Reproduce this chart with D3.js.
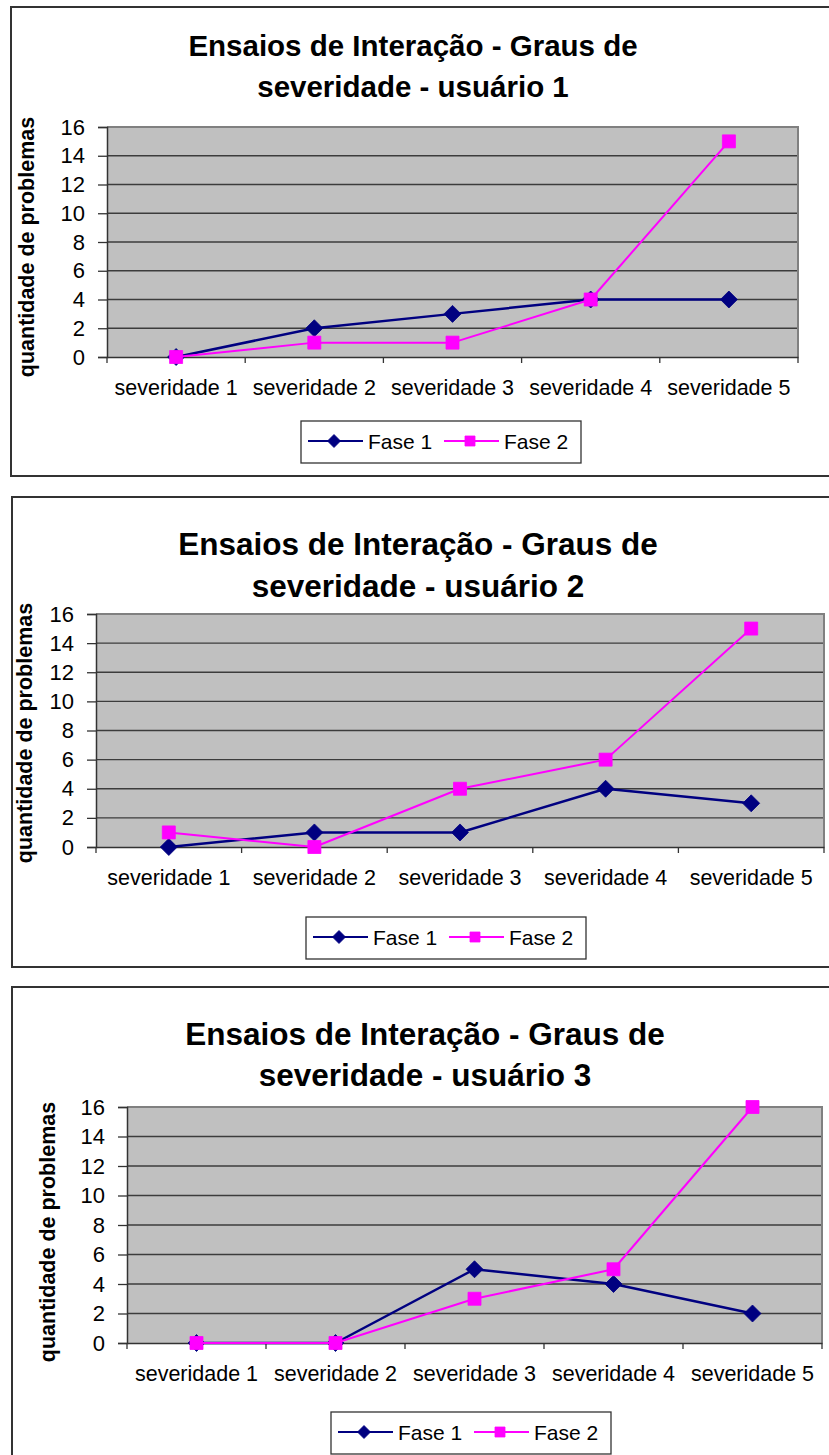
<!DOCTYPE html>
<html>
<head>
<meta charset="utf-8">
<script src="https://cdn.jsdelivr.net/npm/d3@7/dist/d3.min.js"></script>
<style>
  html, body { margin: 0; padding: 0; background: #ffffff; }
  svg { display: block; }
  text { font-family: "Liberation Sans", Arial, Helvetica, sans-serif; fill: #000; }
</style>
</head>
<body>
<svg id="chart" width="829" height="1455"></svg>
<script>
// Categories and tick values shared by the three panels
const categories = ["severidade 1", "severidade 2", "severidade 3", "severidade 4", "severidade 5"];
const yTicks = [0, 2, 4, 6, 8, 10, 12, 14, 16];
const seriesNames = ["Fase 1", "Fase 2"];
const yAxisTitle = "quantidade de problemas";

// Number of problems per severity level, per user and phase
const fase1Usuario1 = [0, 2, 3, 4, 4];
const fase2Usuario1 = [0, 1, 1, 4, 15];
const fase1Usuario2 = [0, 1, 1, 4, 3];
const fase2Usuario2 = [1, 0, 4, 6, 15];
const fase1Usuario3 = [0, 0, 5, 4, 2];
const fase2Usuario3 = [0, 0, 3, 5, 16];

const titles = [
  ["Ensaios de Interação - Graus de", "severidade - usuário 1"],
  ["Ensaios de Interação - Graus de", "severidade - usuário 2"],
  ["Ensaios de Interação - Graus de", "severidade - usuário 3"]
];

// Panel geometry (pixels)
const layouts = [
  { frame: [11, 7, 840, 469], plot: { l: 107, r: 798, t: 127, b: 357 },
    titleX: 413, titleY: [56, 97], titleSize: 29.5,
    axisTitle: [34, 247], legend: [301, 421] },
  { frame: [12, 497, 840, 470], plot: { l: 96, r: 824, t: 614, b: 847 },
    titleX: 418, titleY: [555, 597], titleSize: 31.5,
    axisTitle: [32, 733], legend: [306, 917] },
  { frame: [12, 987, 840, 500], plot: { l: 127, r: 822, t: 1107, b: 1343 },
    titleX: 425, titleY: [1045, 1086], titleSize: 31.5,
    axisTitle: [55, 1232], legend: [331, 1412] }
];

const panelData = [
  [fase1Usuario1, fase2Usuario1],
  [fase1Usuario2, fase2Usuario2],
  [fase1Usuario3, fase2Usuario3]
];

const colors = ["#000080", "#FF00FF"];
const lineWidths = [2.5, 2];

const svg = d3.select("#chart");
svg.append("rect").attr("width", 829).attr("height", 1455).attr("fill", "#fff");

const diamond = (s) => `M0,${-s}L${s},0L0,${s}L${-s},0Z`;
const square = (s) => `M${-s},${-s}H${s}V${s}H${-s}Z`;

function drawMarker(g, i, x, y, big) {
  const path = i === 0 ? diamond(big ? 8.5 : 6.5) : square(big ? 6.5 : 5);
  g.append("path")
    .attr("d", path)
    .attr("transform", `translate(${x},${y})`)
    .attr("fill", colors[i])
    .attr("stroke", colors[i])
    .attr("stroke-width", 0.8);
}

layouts.forEach((L, p) => {
  const g = svg.append("g");
  const [fx, fy, fw, fh] = L.frame;

  // Outer chart frame
  g.append("rect")
    .attr("x", fx).attr("y", fy).attr("width", fw).attr("height", fh)
    .attr("fill", "#fff").attr("stroke", "#333").attr("stroke-width", 2);

  // Title (two lines)
  titles[p].forEach((line, k) => {
    g.append("text")
      .attr("x", L.titleX).attr("y", L.titleY[k])
      .attr("text-anchor", "middle")
      .attr("font-weight", "bold")
      .attr("font-size", L.titleSize)
      .text(line);
  });

  const P = L.plot;
  const x = d3.scaleBand().domain(categories).range([P.l, P.r]).padding(0);
  const y = d3.scaleLinear().domain([0, 16]).range([P.b, P.t]);
  const cx = (c) => x(c) + x.bandwidth() / 2;

  // Plot background
  g.append("rect")
    .attr("x", P.l).attr("y", P.t)
    .attr("width", P.r - P.l).attr("height", P.b - P.t)
    .attr("fill", "#C0C0C0");

  // Horizontal gridlines
  g.append("g")
    .selectAll("line")
    .data(yTicks.filter(v => v > 0 && v < 16))
    .join("line")
    .attr("x1", P.l).attr("x2", P.r)
    .attr("y1", d => y(d)).attr("y2", d => y(d))
    .attr("stroke", "#3c3c3c").attr("stroke-width", 1.3);

  // Top and right border of plot area
  g.append("path")
    .attr("d", `M${P.l},${P.t}H${P.r}V${P.b}`)
    .attr("fill", "none").attr("stroke", "#808080").attr("stroke-width", 2);

  // Y axis
  const yAxis = d3.axisLeft(y).tickValues(yTicks).tickSize(9).tickPadding(13);
  const ya = g.append("g").attr("transform", `translate(${P.l},0)`).call(yAxis);
  ya.select(".domain").attr("stroke", "#333").attr("stroke-width", 1.5);
  ya.selectAll(".tick line").attr("stroke", "#333").attr("stroke-width", 1.3);
  ya.selectAll(".tick text")
    .attr("font-size", 22)
    .attr("font-family", "\"Liberation Sans\", Arial, sans-serif")
    .attr("fill", "#000");

  // X axis: labels centred in each band, tick marks on the band boundaries
  const xAxis = d3.axisBottom(x).tickSize(0).tickPadding(23);
  const xa = g.append("g").attr("transform", `translate(0,${P.b})`).call(xAxis);
  xa.select(".domain").attr("stroke", "#333").attr("stroke-width", 1.5);
  xa.selectAll(".tick text")
    .attr("font-size", 21.5)
    .attr("font-family", "\"Liberation Sans\", Arial, sans-serif")
    .attr("fill", "#000");
  const bounds = categories.map(c => x(c)).concat([x(categories[categories.length - 1]) + x.bandwidth()]);
  g.append("g")
    .selectAll("line")
    .data(bounds)
    .join("line")
    .attr("x1", d => d).attr("x2", d => d)
    .attr("y1", P.b).attr("y2", P.b + 6)
    .attr("stroke", "#333").attr("stroke-width", 1.3);

  // Y axis title
  g.append("text")
    .attr("transform", `translate(${L.axisTitle[0]},${L.axisTitle[1]}) rotate(-90)`)
    .attr("text-anchor", "middle")
    .attr("font-weight", "bold")
    .attr("font-size", 21.5)
    .text(yAxisTitle);

  // Series lines and markers
  const line = d3.line().x((d, i) => cx(categories[i])).y(d => y(d));
  panelData[p].forEach((vals, i) => {
    const sg = g.append("g");
    sg.append("path")
      .datum(vals)
      .attr("d", line)
      .attr("fill", "none")
      .attr("stroke", colors[i])
      .attr("stroke-width", lineWidths[i])
      .attr("stroke-linejoin", "round");
    vals.forEach((v, k) => drawMarker(sg, i, cx(categories[k]), y(v), true));
  });

  // Legend
  const [lx, ly] = L.legend;
  const lg = g.append("g");
  lg.append("rect")
    .attr("x", lx).attr("y", ly).attr("width", 280).attr("height", 42)
    .attr("fill", "#fff").attr("stroke", "#333").attr("stroke-width", 1.3);
  seriesNames.forEach((name, i) => {
    const ox = lx + 7 + i * 136;
    const my = ly + 20;
    lg.append("line")
      .attr("x1", ox).attr("x2", ox + 55)
      .attr("y1", my).attr("y2", my)
      .attr("stroke", colors[i]).attr("stroke-width", 2);
    drawMarker(lg, i, ox + 26, my, false);
    lg.append("text")
      .attr("x", ox + 60).attr("y", my + 7.5)
      .attr("font-size", 21)
      .text(name);
  });
});
</script>
</body>
</html>
